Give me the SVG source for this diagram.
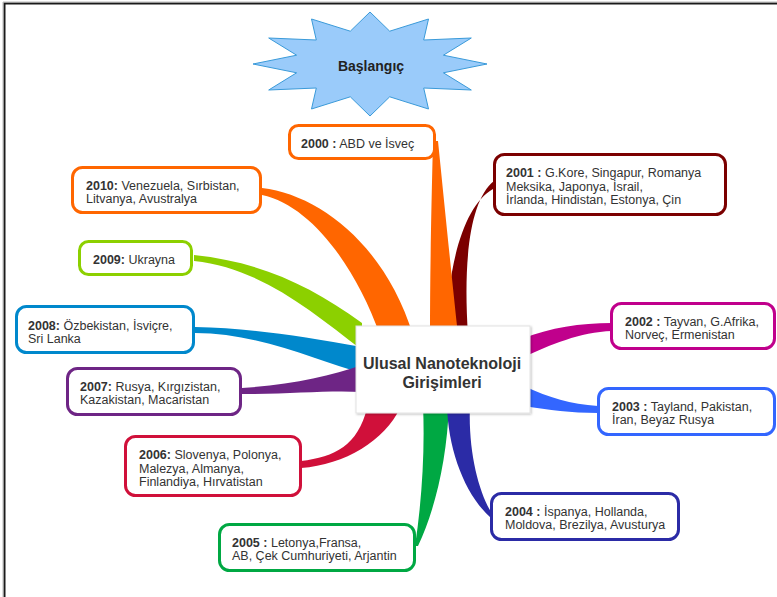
<svg xmlns="http://www.w3.org/2000/svg" width="777" height="597" viewBox="0 0 777 597">
<defs>
<style>
.box{fill:#fff;stroke-width:3}
.t{font-family:"Liberation Sans",Arial,sans-serif;font-size:12.5px;fill:#333}
.b{font-weight:bold}
.ct{font-family:"Liberation Sans",Arial,sans-serif;font-size:16px;font-weight:bold;fill:#333;text-anchor:middle}
</style>
<filter id="sh" x="-10%" y="-10%" width="120%" height="120%"><feDropShadow dx="1" dy="1" stdDeviation="1.2" flood-color="#000" flood-opacity="0.25"/></filter>
</defs>
<rect width="777" height="597" fill="#fff"/>
<path d="M4.5,597 V3.5 H777" fill="none" stroke="#1a1a1a" stroke-width="2"/>
<path d="M3,597 V2 H777" fill="none" stroke="#aaa" stroke-width="0.8"/>

<g id="connectors">
<path d="M262,188 C320,195 385,245 413,335 L380,335 C355,265 310,205 262,195 Z" fill="#FF6600"/>
<path d="M494,181 C470,200 463,260 468,335 L446,335 C448,260 465,205 493,189 Z" fill="#7B0000"/>
<path d="M433,141 L438,141 C446,220 452,280 458,335 L430,335 C430,280 431,220 433,141 Z" fill="#FF6600"/>
<path d="M194,255 C260,262 310,285 362,323 L362,350 C310,310 260,268 194,261 Z" fill="#8CD000"/>
<path d="M195,327 C250,328 300,336 362,347 L362,373 C320,362 260,333 195,333 Z" fill="#0088CC"/>
<path d="M242,388 C290,385 330,376 362,365 L362,392 C330,390 290,394 242,394 Z" fill="#6E2585"/>
<path d="M301,461 C335,457 358,445 367,408 L400,408 C385,440 345,465 301,468 Z" fill="#D0103A"/>
<path d="M423,405 L449,405 C447,460 435,510 418,546 L415,546 C422,500 425,450 423,405 Z" fill="#00A843"/>
<path d="M447,405 L470,405 C468,450 478,490 491,512 L491,518 C465,495 448,450 447,405 Z" fill="#2B2BA6"/>
<path d="M612,323 C580,323 550,328 524,338 L524,357 C550,345 580,332 612,331 Z" fill="#C0008C"/>
<path d="M598,406 C570,404 550,398 524,386 L524,406 C550,410 570,413 598,413 Z" fill="#3366FF"/>
</g>

<g id="start">
<polygon points="370,12 389.7,31.2 428.5,19 423.7,40 471.3,38 443.4,55.2 487,64 443.4,72.8 471.3,90 423.7,88 428.5,109 389.7,96.8 370,116 350.3,96.8 311.5,109 316.3,88 268.7,90 296.6,72.8 253,64 296.6,55.2 268.7,38 316.3,40 311.5,19 350.3,31.2" fill="#9ACBFA" stroke="#3A9AD9" stroke-width="1"/>
<text x="371" y="71" font-family="Liberation Sans,Arial,sans-serif" font-size="14" font-weight="bold" fill="#222" text-anchor="middle">Başlangıç</text>
</g>

<g id="center">
<rect x="356" y="326" width="174" height="87" fill="#fff" stroke="#e2e2e2" stroke-width="1" filter="url(#sh)"/>
<text class="ct" x="442" y="369">Ulusal Nanoteknoloji</text>
<text class="ct" x="442" y="388">Girişimleri</text>
</g>

<g id="n2000">
<rect class="box" x="289.5" y="125.5" width="145" height="33" rx="9" stroke="#FF6600"/>
<text class="t" x="301" y="148"><tspan class="b">2000 :</tspan> ABD ve İsveç</text>
</g>

<g id="n2001">
<rect class="box" x="494.5" y="154.5" width="231" height="60" rx="10" stroke="#7B0000"/>
<text class="t" x="506" y="177"><tspan class="b">2001 :</tspan> G.Kore, Singapur, Romanya</text>
<text class="t" x="506" y="190.5">Meksika, Japonya, İsrail,</text>
<text class="t" x="506" y="204">İrlanda, Hindistan, Estonya, Çin</text>
</g>

<g id="n2002">
<rect class="box" x="611.5" y="303.5" width="163" height="45" rx="10" stroke="#C0008C"/>
<text class="t" x="625" y="326"><tspan class="b">2002 :</tspan> Tayvan, G.Afrika,</text>
<text class="t" x="625" y="339">Norveç, Ermenistan</text>
</g>

<g id="n2003">
<rect class="box" x="598.5" y="388.5" width="176" height="46" rx="10" stroke="#3366FF"/>
<text class="t" x="612" y="411"><tspan class="b">2003 :</tspan> Tayland, Pakistan,</text>
<text class="t" x="612" y="424">İran, Beyaz Rusya</text>
</g>

<g id="n2004">
<rect class="box" x="491.5" y="493.5" width="187" height="46" rx="10" stroke="#2B2BA6"/>
<text class="t" x="505" y="516"><tspan class="b">2004 :</tspan> İspanya, Hollanda,</text>
<text class="t" x="505" y="529">Moldova, Brezilya, Avusturya</text>
</g>

<g id="n2005">
<rect class="box" x="219.5" y="524.5" width="195" height="46" rx="10" stroke="#00A843"/>
<text class="t" x="232" y="547"><tspan class="b">2005 :</tspan> Letonya,Fransa,</text>
<text class="t" x="232" y="559.5">AB, Çek Cumhuriyeti, Arjantin</text>
</g>

<g id="n2006">
<rect class="box" x="125.5" y="436.5" width="175" height="59" rx="10" stroke="#D0103A"/>
<text class="t" x="139" y="459"><tspan class="b">2006:</tspan> Slovenya, Polonya,</text>
<text class="t" x="139" y="472.5">Malezya, Almanya,</text>
<text class="t" x="139" y="486">Finlandiya, Hırvatistan</text>
</g>

<g id="n2007">
<rect class="box" x="67.5" y="368.5" width="173" height="46" rx="10" stroke="#6E2585"/>
<text class="t" x="80" y="391"><tspan class="b">2007:</tspan> Rusya, Kırgızistan,</text>
<text class="t" x="80" y="404">Kazakistan, Macaristan</text>
</g>

<g id="n2008">
<rect class="box" x="16.5" y="306.5" width="177" height="46" rx="10" stroke="#0088CC"/>
<text class="t" x="28" y="329.5"><tspan class="b">2008:</tspan> Özbekistan, İsviçre,</text>
<text class="t" x="28" y="342.5">Sri Lanka</text>
</g>

<g id="n2009">
<rect class="box" x="79.5" y="241.5" width="112" height="33" rx="9" stroke="#8CD000"/>
<text class="t" x="93" y="264"><tspan class="b">2009:</tspan> Ukrayna</text>
</g>

<g id="n2010">
<rect class="box" x="72.5" y="167.5" width="188" height="45" rx="10" stroke="#FF6600"/>
<text class="t" x="86" y="189.5"><tspan class="b">2010:</tspan> Venezuela, Sırbistan,</text>
<text class="t" x="86" y="202.5">Litvanya, Avustralya</text>
</g>
</svg>
